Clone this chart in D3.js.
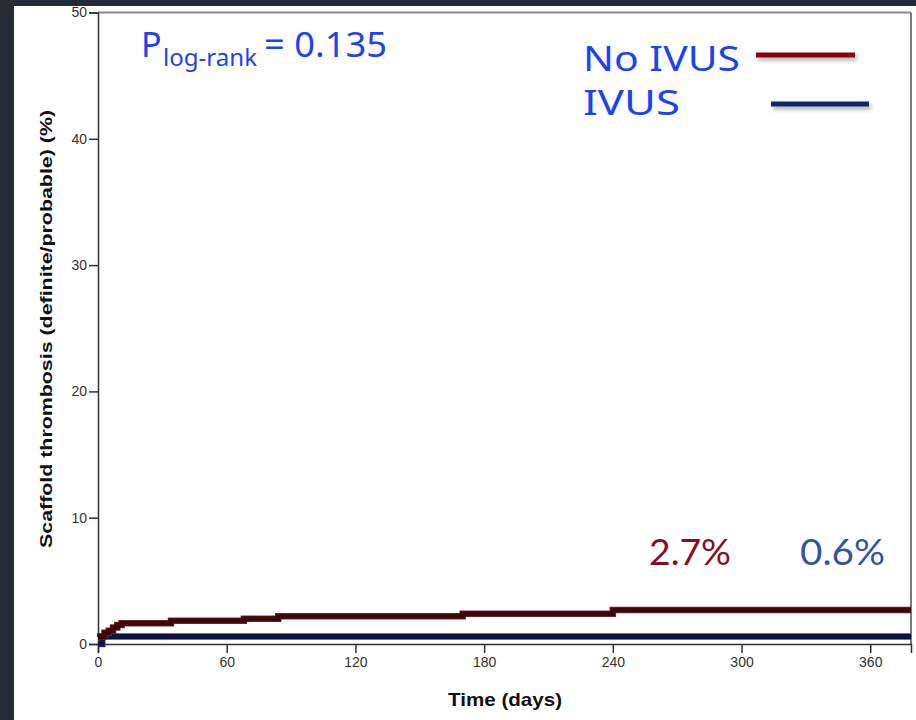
<!DOCTYPE html>
<html>
<head>
<meta charset="utf-8">
<script src="https://cdn.jsdelivr.net/npm/d3@7"></script>
<style>
  html, body { margin: 0; padding: 0; background: #262a37; }
  svg { display: block; }
</style>
</head>
<body>
<svg id="chart" width="916" height="720"></svg>
<script>
// ---- data ----
const xTicks = [0, 60, 120, 180, 240, 300, 360];
const yTicks = [0, 10, 20, 30, 40, 50];
const noIvusTimes  = [0, 1, 3, 5, 7, 9, 11, 34, 68, 84, 170, 240, 379];
const noIvusValues = [0.55, 0.6, 0.9, 1.05, 1.3, 1.5, 1.65, 1.85, 2.0, 2.2, 2.4, 2.7, 2.7];
const ivusTimes  = [0, 2, 379];
const ivusValues = [0, 0.6, 0.6];
const seriesNames = ["No IVUS", "IVUS"];
const finalLabels = ["2.7%", "0.6%"];
const pValue = "0.135";

const svg = d3.select("#chart");

// background panel
svg.append("rect").attr("x", 0).attr("y", 0).attr("width", 916).attr("height", 720).attr("fill", "#262a37");
svg.append("rect").attr("x", 14).attr("y", 6).attr("width", 902).attr("height", 714).attr("fill", "#ffffff");

const defs = svg.append("defs");
const f = defs.append("filter").attr("id", "shadow").attr("filterUnits", "userSpaceOnUse")
  .attr("x", 0).attr("y", 0).attr("width", 916).attr("height", 720);
f.append("feDropShadow").attr("dx", 2).attr("dy", 3).attr("stdDeviation", 2).attr("flood-color", "#000").attr("flood-opacity", 0.3);

const x = d3.scaleLinear().domain([0, 379]).range([98, 911]);
const y = d3.scaleLinear().domain([0, 50]).range([644, 12.5]);

// frame top / right
svg.append("line").attr("x1", x(0)).attr("x2", x(379)).attr("y1", y(50)).attr("y2", y(50))
  .attr("stroke", "#8c8c8c").attr("stroke-width", 2);
svg.append("line").attr("x1", x(379)).attr("x2", x(379)).attr("y1", y(50)).attr("y2", y(0))
  .attr("stroke", "#7a7a7a").attr("stroke-width", 2);

// axes
const yAxis = svg.append("g").attr("transform", `translate(${x(0)},0)`)
  .call(d3.axisLeft(y).tickValues(yTicks).tickSize(9).tickPadding(2).tickFormat(d3.format("d")));
const xAxis = svg.append("g").attr("transform", `translate(0,${y(0)})`)
  .call(d3.axisBottom(x).tickValues(xTicks).tickSize(9).tickPadding(4).tickFormat(d3.format("d")));
[yAxis, xAxis].forEach(g => {
  g.select(".domain").attr("stroke", "#333").attr("stroke-width", 1.5);
  g.selectAll(".tick line").attr("stroke", "#333").attr("stroke-width", 1.5);
  g.selectAll(".tick text").attr("fill", "#333").attr("font-family", "Liberation Sans, Arial, sans-serif").attr("font-size", 14);
});

// axis titles
svg.append("text")
  .attr("transform", `translate(52,329) rotate(-90)`)
  .attr("text-anchor", "middle")
  .attr("font-family", "Liberation Sans, Arial, sans-serif")
  .attr("font-weight", "bold").attr("font-size", 17).attr("fill", "#111")
  .attr("textLength", 438).attr("lengthAdjust", "spacingAndGlyphs")
  .text("Scaffold thrombosis (definite/probable) (%)");
svg.append("text")
  .attr("x", 505).attr("y", 706)
  .attr("text-anchor", "middle")
  .attr("font-family", "Liberation Sans, Arial, sans-serif")
  .attr("font-weight", "bold").attr("font-size", 19).attr("fill", "#111")
  .attr("textLength", 114).attr("lengthAdjust", "spacingAndGlyphs")
  .text("Time (days)");

// step curves
const line = d3.line().x(d => x(d[0])).y(d => y(d[1])).curve(d3.curveStepAfter);
const noIvus = noIvusTimes.map((t, i) => [t, noIvusValues[i]]);
const ivus = ivusTimes.map((t, i) => [t, ivusValues[i]]);

svg.append("path").datum(ivus).attr("d", line).attr("fill", "none")
  .attr("stroke", "#3a4a80").attr("stroke-width", 6.5);
svg.append("path").datum(ivus).attr("d", line).attr("fill", "none")
  .attr("stroke", "#0a1342").attr("stroke-width", 5);
svg.append("path").datum(noIvus).attr("d", line).attr("fill", "none")
  .attr("stroke", "#7a3030").attr("stroke-width", 6.5);
svg.append("path").datum(noIvus).attr("d", line).attr("fill", "none")
  .attr("stroke", "#3d0808").attr("stroke-width", 5);

// p-value
const pFont = "Comic Sans MS, Noto Sans, sans-serif";
svg.append("text").attr("x", 141).attr("y", 57).attr("font-family", pFont)
  .attr("fill", "#1d43ee").attr("font-size", 34).text("P");
svg.append("text").attr("x", 163).attr("y", 66).attr("font-family", pFont)
  .attr("fill", "#1d43ee").attr("font-size", 23)
  .attr("textLength", 94).attr("lengthAdjust", "spacingAndGlyphs").text("log-rank");
svg.append("text").attr("x", 264).attr("y", 57).attr("font-family", pFont)
  .attr("fill", "#1d43ee").attr("font-size", 34)
  .attr("textLength", 123).attr("lengthAdjust", "spacingAndGlyphs").text("= " + pValue);

// legend
const legColors = ["#8c0010", "#0e2a68"];
const legY = [71, 115];
const lineX = [[756, 855], [771, 869]];
const lineY = [55, 104];
seriesNames.forEach((n, i) => {
  svg.append("text").attr("x", 583).attr("y", legY[i])
    .attr("font-family", pFont).attr("font-size", 34)
    .attr("fill", "#1d43ee")
    .attr("textLength", i === 0 ? 157 : 97).attr("lengthAdjust", "spacingAndGlyphs")
    .text(n);
  svg.append("rect").attr("x", lineX[i][0]).attr("y", lineY[i] - 2.5)
    .attr("width", lineX[i][1] - lineX[i][0]).attr("height", 5)
    .attr("fill", legColors[i])
    .attr("filter", "url(#shadow)");
});

// final values
const labColors = ["#8b0c1e", "#34559e"];
const labX = [649, 800];
finalLabels.forEach((t, i) => {
  svg.append("text").attr("x", labX[i]).attr("y", 565)
    .attr("font-family", "Lato, Noto Sans, sans-serif").attr("font-size", 37)
    .attr("fill", labColors[i])
    .attr("textLength", i === 0 ? 82 : 85).attr("lengthAdjust", "spacingAndGlyphs")
    .text(t);
});
</script>
</body>
</html>
